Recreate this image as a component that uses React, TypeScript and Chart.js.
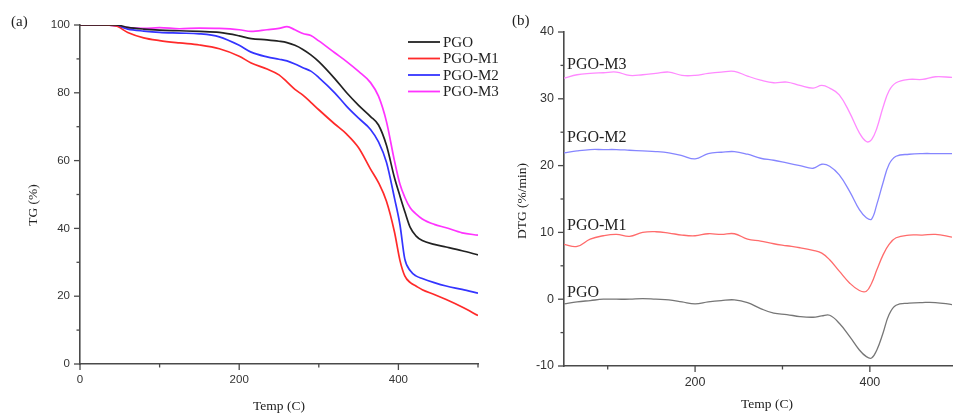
import React, { useEffect, useRef } from "react";
import { Chart, registerables } from "chart.js";

Chart.register(...registerables);

// ---------- Panel (a): TG ----------
const TEMP_A = [0, 25, 45, 60, 80, 100, 125, 150, 175, 200, 215, 235, 250, 260, 270, 280, 290, 300, 320, 335, 350, 365, 375, 385, 395, 402, 408, 415, 422, 430, 445, 460, 480, 500];
const TG_PGO = [100, 100, 100, 99.3, 98.8, 98.5, 98.3, 98.1, 97.8, 96.8, 96.0, 95.6, 95.2, 94.8, 94.0, 92.8, 91.2, 89.2, 84.2, 80.0, 76.3, 73.0, 70.5, 64.5, 55.0, 49.5, 45.0, 40.2, 37.8, 36.4, 35.3, 34.5, 33.4, 32.2];
const TG_M1 = [100, 100, 99.7, 97.8, 96.2, 95.4, 94.7, 94.1, 93.0, 90.8, 88.8, 87.0, 85.3, 83.2, 81.0, 79.3, 77.2, 75.0, 70.8, 67.8, 63.8, 57.5, 53.5, 48.0, 39.0, 30.5, 26.0, 24.0, 23.0, 21.9, 20.5, 19.0, 16.8, 14.3];
const TG_M2 = [100, 100, 99.8, 98.8, 98.2, 97.8, 97.6, 97.4, 96.5, 94.0, 92.0, 90.6, 89.9, 89.4, 88.5, 87.4, 86.4, 84.5, 80.0, 76.0, 72.5, 69.2, 65.5, 59.5, 49.0, 41.0, 31.0, 27.5, 26.0, 25.2, 24.0, 23.0, 22.0, 20.9];
const TG_M3 = [100, 100, 99.8, 99.2, 99.0, 99.2, 98.9, 99.1, 99.0, 98.6, 98.1, 98.6, 99.0, 99.5, 98.6, 97.5, 96.9, 95.3, 91.8, 89.2, 86.3, 83.0, 79.0, 71.5, 60.0, 53.0, 49.2, 46.0, 44.3, 42.8, 41.2, 40.2, 38.7, 38.0];

const X_TICKS_A = [0, 100, 200, 300, 400, 500];
const X_LABELS_A = [0, 200, 400];
const Y_TICKS_A = [0, 10, 20, 30, 40, 50, 60, 70, 80, 90, 100];
const Y_LABELS_A = [0, 20, 40, 60, 80, 100];

// ---------- Panel (b): DTG ----------
const TEMP_B = [50, 65, 80, 95, 110, 125, 140, 155, 170, 185, 200, 215, 230, 245, 260, 275, 290, 305, 320, 335, 345, 354, 365, 377, 388, 396, 402, 408, 415, 422, 430, 445, 460, 475, 494];
const DTG_PGO = [-0.7, -0.4, -0.2, 0.0, 0.0, 0.0, 0.1, 0.0, -0.1, -0.4, -0.7, -0.4, -0.2, -0.1, -0.5, -1.4, -2.1, -2.3, -2.6, -2.7, -2.5, -2.4, -3.6, -5.6, -7.6, -8.6, -8.8, -7.6, -5.1, -2.3, -0.9, -0.6, -0.5, -0.5, -0.8];
const DTG_M1 = [8.2, 7.9, 9.0, 9.5, 9.7, 9.4, 10.0, 10.1, 9.9, 9.6, 9.5, 9.8, 9.7, 9.8, 9.0, 8.7, 8.3, 8.0, 7.7, 7.3, 6.9, 5.9, 4.2, 2.4, 1.3, 1.2, 2.4, 4.4, 6.6, 8.2, 9.2, 9.6, 9.6, 9.7, 9.3];
const DTG_M2 = [21.9, 22.2, 22.4, 22.4, 22.4, 22.3, 22.2, 22.1, 21.9, 21.5, 21.0, 21.8, 22.0, 22.1, 21.7, 21.1, 20.8, 20.4, 20.0, 19.6, 20.2, 19.9, 18.6, 16.1, 13.4, 12.2, 12.0, 14.2, 17.4, 20.2, 21.4, 21.7, 21.8, 21.8, 21.8];
const DTG_M3 = [33.1, 33.6, 33.8, 33.9, 34.0, 33.5, 33.6, 33.8, 34.0, 33.5, 33.5, 33.8, 34.0, 34.1, 33.4, 32.8, 32.4, 32.5, 32.0, 31.6, 32.0, 31.6, 30.6, 27.9, 24.9, 23.6, 23.9, 25.6, 28.7, 31.2, 32.4, 32.9, 32.9, 33.3, 33.2];

const X_TICKS_B = [100, 200, 300, 400];
const X_LABELS_B = [200, 400];
const Y_TICKS_B = [-10, -5, 0, 5, 10, 15, 20, 25, 30, 35, 40];
const Y_LABELS_B = [-10, 0, 10, 20, 30, 40];
const LABEL_Y_B = [1.0, 11.0, 24.2, 35.1];

const NAMES = ["PGO", "PGO-M1", "PGO-M2", "PGO-M3"];
const COLORS_A = ["#222222", "#ff2a2a", "#3434ff", "#ff33ff"];
const COLORS_B = ["#767676", "#ff6b6b", "#8686ff", "#ff8aff"];

const AXIS_COLOR = "#4a4a4a";
const SANS = "'Liberation Sans', Arial, sans-serif";
const SERIF = "'Liberation Serif', 'Times New Roman', serif";

function toPoints(xs: number[], ys: number[]) {
  return xs.map((x, i) => ({ x, y: ys[i] }));
}

function makeScales(
  xMin: number, xMax: number, xTicks: number[], xLabels: number[],
  yMin: number, yMax: number, yTicks: number[], yLabels: number[],
  yWidth: number, xHeight: number, fontSize: number
) {
  const font = { family: SANS, size: fontSize };
  return {
    x: {
      type: "linear" as const,
      min: xMin,
      max: xMax,
      afterBuildTicks: (s: any) => { s.ticks = xTicks.map((v) => ({ value: v })); },
      afterFit: (s: any) => { s.height = xHeight; },
      ticks: {
        autoSkip: false,
        maxRotation: 0,
        padding: 9,
        color: "#333",
        font,
        callback: (v: any) => (xLabels.includes(Number(v)) ? String(v) : ""),
      },
      grid: { drawOnChartArea: false, drawTicks: false },
      border: { color: AXIS_COLOR, width: 1.6 },
    },
    y: {
      type: "linear" as const,
      min: yMin,
      max: yMax,
      afterBuildTicks: (s: any) => { s.ticks = yTicks.map((v) => ({ value: v })); },
      afterFit: (s: any) => { s.width = yWidth; },
      ticks: {
        autoSkip: false,
        padding: 10,
        color: "#333",
        font,
        callback: (v: any) => (yLabels.includes(Number(v)) ? String(v) : ""),
      },
      grid: { drawOnChartArea: false, drawTicks: false },
      border: { color: AXIS_COLOR, width: 1.6 },
    },
  };
}

function tickPlugin(xTicks: number[], xMajor: number[], yTicks: number[], yMajor: number[]) {
  return {
    id: "minorMajorTicks",
    afterDraw(chart: any) {
      const ctx = chart.ctx;
      const xs = chart.scales.x;
      const ys = chart.scales.y;
      const { left, bottom } = chart.chartArea;
      ctx.save();
      ctx.strokeStyle = AXIS_COLOR;
      ctx.lineWidth = 1.3;
      xTicks.forEach((v) => {
        const px = xs.getPixelForValue(v);
        const len = xMajor.includes(v) ? 6 : 3.5;
        ctx.beginPath();
        ctx.moveTo(px, bottom);
        ctx.lineTo(px, bottom + len);
        ctx.stroke();
      });
      yTicks.forEach((v) => {
        const py = ys.getPixelForValue(v);
        const len = yMajor.includes(v) ? 6 : 3.5;
        ctx.beginPath();
        ctx.moveTo(left, py);
        ctx.lineTo(left - len, py);
        ctx.stroke();
      });
      ctx.restore();
    },
  };
}

function textPlugin(opts: {
  panel: string; panelX: number; panelY: number;
  yTitle: string; yTitleX: number; yTitleY: number;
  xTitle: string; xTitleX: number; xTitleY: number;
  extra?: (chart: any) => void;
}) {
  return {
    id: "texts",
    afterDraw(chart: any) {
      const ctx = chart.ctx;
      ctx.save();
      ctx.fillStyle = "#222";
      ctx.textBaseline = "middle";
      ctx.textAlign = "left";
      ctx.font = `15px ${SERIF}`;
      ctx.fillText(opts.panel, opts.panelX, opts.panelY);
      ctx.font = `13.5px ${SERIF}`;
      ctx.textAlign = "center";
      ctx.fillText(opts.xTitle, opts.xTitleX, opts.xTitleY);
      ctx.save();
      ctx.translate(opts.yTitleX, opts.yTitleY);
      ctx.rotate(-Math.PI / 2);
      ctx.fillText(opts.yTitle, 0, 0);
      ctx.restore();
      if (opts.extra) opts.extra(chart);
      ctx.restore();
    },
  };
}

const legendA = (chart: any) => {
  const ctx = chart.ctx;
  const ys = [42, 58.5, 75, 91.5];
  ctx.save();
  ctx.textAlign = "left";
  ctx.textBaseline = "middle";
  ctx.font = `15px ${SERIF}`;
  NAMES.forEach((n, i) => {
    ctx.strokeStyle = COLORS_A[i];
    ctx.lineWidth = 1.8;
    ctx.beginPath();
    ctx.moveTo(408, ys[i]);
    ctx.lineTo(440, ys[i]);
    ctx.stroke();
    ctx.fillStyle = "#222";
    ctx.fillText(n, 443, ys[i] + 1);
  });
  ctx.restore();
};

const labelsB = (chart: any) => {
  const ctx = chart.ctx;
  const ys = chart.scales.y;
  const left = chart.chartArea.left;
  ctx.save();
  ctx.textAlign = "left";
  ctx.textBaseline = "middle";
  ctx.font = `16px ${SERIF}`;
  ctx.fillStyle = "#222";
  NAMES.forEach((n, i) => {
    ctx.fillText(n, left + 3, ys.getPixelForValue(LABEL_Y_B[i]));
  });
  ctx.restore();
};

export default function App() {
  const refA = useRef<HTMLCanvasElement>(null);
  const refB = useRef<HTMLCanvasElement>(null);

  useEffect(() => {
    const seriesA = [TG_PGO, TG_M1, TG_M2, TG_M3];
    const seriesB = [DTG_PGO, DTG_M1, DTG_M2, DTG_M3];

    const chartA = new Chart(refA.current as HTMLCanvasElement, {
      type: "line",
      data: {
        datasets: seriesA.map((s, i) => ({
          label: NAMES[i],
          data: toPoints(TEMP_A, s),
          borderColor: COLORS_A[i],
          borderWidth: 1.7,
          pointRadius: 0,
          cubicInterpolationMode: "monotone" as const,
          fill: false,
        })),
      },
      options: {
        animation: false,
        responsive: false,
        devicePixelRatio: 1,
        layout: { padding: { left: 0, top: 25, right: 22, bottom: 0 } },
        plugins: { legend: { display: false }, tooltip: { enabled: false } },
        scales: makeScales(0, 500, X_TICKS_A, X_LABELS_A, 0, 100, Y_TICKS_A, Y_LABELS_A, 80, 49, 11.5) as any,
      },
      plugins: [
        tickPlugin(X_TICKS_A, X_LABELS_A, Y_TICKS_A, Y_LABELS_A),
        textPlugin({
          panel: "(a)", panelX: 11, panelY: 22,
          yTitle: "TG (%)", yTitleX: 33, yTitleY: 205,
          xTitle: "Temp (C)", xTitleX: 279, xTitleY: 406,
          extra: legendA,
        }),
      ],
    });

    const chartB = new Chart(refB.current as HTMLCanvasElement, {
      type: "line",
      data: {
        datasets: seriesB.map((s, i) => ({
          label: NAMES[i],
          data: toPoints(TEMP_B, s),
          borderColor: COLORS_B[i],
          borderWidth: 1.3,
          pointRadius: 0,
          tension: 0.4,
          fill: false,
        })),
      },
      options: {
        animation: false,
        responsive: false,
        devicePixelRatio: 1,
        layout: { padding: { left: 0, top: 32, right: 1, bottom: 0 } },
        plugins: { legend: { display: false }, tooltip: { enabled: false } },
        scales: makeScales(50, 494, X_TICKS_B, X_LABELS_B, -10, 40, Y_TICKS_B, Y_LABELS_B, 64, 47, 12.5) as any,
      },
      plugins: [
        tickPlugin(X_TICKS_B, X_LABELS_B, Y_TICKS_B, Y_LABELS_B),
        textPlugin({
          panel: "(b)", panelX: 12, panelY: 21,
          yTitle: "DTG (%/min)", yTitleX: 22, yTitleY: 201,
          xTitle: "Temp (C)", xTitleX: 267, xTitleY: 404,
          extra: labelsB,
        }),
      ],
    });

    return () => {
      chartA.destroy();
      chartB.destroy();
    };
  }, []);

  return (
    <div style={{ position: "absolute", left: 0, top: 0, width: 953, height: 413, background: "#fff", overflow: "hidden" }}>
      <canvas ref={refA} width={500} height={413} style={{ position: "absolute", left: 0, top: 0, width: 500, height: 413 }} />
      <canvas ref={refB} width={453} height={413} style={{ position: "absolute", left: 500, top: 0, width: 453, height: 413 }} />
    </div>
  );
}
